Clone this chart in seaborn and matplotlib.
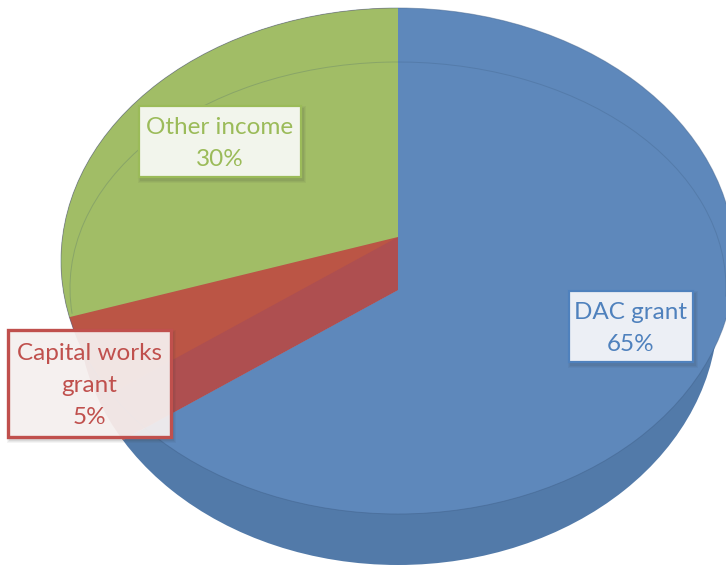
import matplotlib
matplotlib.use("Agg")
import matplotlib.pyplot as plt
import seaborn as sns
from matplotlib.patches import Arc, Ellipse, Rectangle

# Income shares, clockwise from twelve o'clock
sources = ["DAC grant", "Capital works\ngrant", "Other income"]
shares = [65, 5, 30]

# Face, side and label colours for each source
face_colors = sns.color_palette(["#5e88bb", "#bb5545", "#a1bd66"])
side_colors = sns.color_palette(["#527aa9", "#ab4c4c"])
label_colors = ["#4f81bd", "#c0504d", "#9bbb59"]
label_fills = ["#eceff5", "#f8f2f1", "#f2f5ec"]

# Label boxes as left, top, right, bottom in pixels
label_boxes = [(569, 291, 693, 362), (8, 330, 171, 437), (139, 106, 301, 177)]
label_alpha = [1.0, 0.93, 1.0]
label_edge = [1.6, 2.4, 1.6]

W, H = 726, 565
FACE_RX, FACE_RY = 337, 253
STRETCH = FACE_RX / FACE_RY

sns.set_theme(style="white")
plt.rcParams["font.family"] = ["Lato", "DejaVu Sans"]

fig = plt.figure(figsize=(W / 100, H / 100), dpi=100)
ax = fig.add_axes([0, 0, 1, 1])


def ypos(py):
    """Convert a pixel row to the stretched data scale used by the pie."""
    return (H - py) * STRETCH


def oval(cx, cy, rx, ry, **kw):
    return Ellipse((cx, ypos(cy)), 2 * rx, 2 * ry * STRETCH, transform=ax.transData, **kw)


def clipped_pie(values, colors, apex_y, clip, z):
    wedges, _ = ax.pie(values, colors=colors, startangle=90, counterclock=False,
                       center=(398, ypos(apex_y)), radius=1500, frame=False,
                       wedgeprops={"linewidth": 0, "zorder": z})
    for w in wedges:
        w.set_clip_on(True)
        w.set_clip_path(clip)
    return wedges


face_clip = oval(398, 261, FACE_RX, FACE_RY, fc="none", ec="none")
side_clip = oval(398, 310, 320, 255, fc="none", ec="none")
ax.add_patch(face_clip)
ax.add_patch(side_clip)

rest = shares[1] + shares[2]
# Rim of the disc, seen below the front of the top face
clipped_pie([shares[0], rest], side_colors, 290, side_clip, 1)
# Blue face and the exposed cut wall of the lifted slices
clipped_pie([shares[0], rest], [face_colors[0], "#ae4f50"], 290, face_clip, 2)
# Red and green faces meet higher up
top = clipped_pie(shares, face_colors, 237, face_clip, 3)
top[0].set_visible(False)

# Thin outlines of the top face and the bevel
ax.add_patch(oval(398, 261, FACE_RX, FACE_RY, fc="none", ec="#3f5f88", lw=0.7, alpha=0.45, zorder=4))
ax.add_patch(Arc((398, ypos(288)), 2 * 328, 2 * 226 * STRETCH, theta1=-2, theta2=186,
                 ec="#33506f", lw=0.7, alpha=0.22, zorder=4))

ax.set_aspect("auto")
ax.set_xlim(0, W)
ax.set_ylim(0, H * STRETCH)
ax.axis("off")

# Callout boxes with a soft drop shadow
for name, value, col, fill, box, alpha, lw in zip(
        sources, shares, label_colors, label_fills, label_boxes, label_alpha, label_edge):
    x0, y0, x1, y1 = box
    for grow, a in [(6, 0.05), (4, 0.06), (2, 0.08)]:
        ax.add_patch(Rectangle((x0 + 2 - grow / 2, ypos(y1 + 3 + grow / 2)),
                               x1 - x0 + grow, (y1 - y0 + grow) * STRETCH,
                               fc="#333333", ec="none", alpha=a, zorder=5))
    ax.add_patch(Rectangle((x0, ypos(y1)), x1 - x0, (y1 - y0) * STRETCH,
                           fc=matplotlib.colors.to_rgba(fill, alpha), ec=col, lw=lw, zorder=6))
    ax.text((x0 + x1) / 2, ypos((y0 + y1) / 2 + 2), f"{name}\n{value}%", color=col,
            ha="center", va="center", fontsize=17.5, linespacing=1.66, zorder=7)

fig.savefig("out.png", dpi=100, facecolor="white")
